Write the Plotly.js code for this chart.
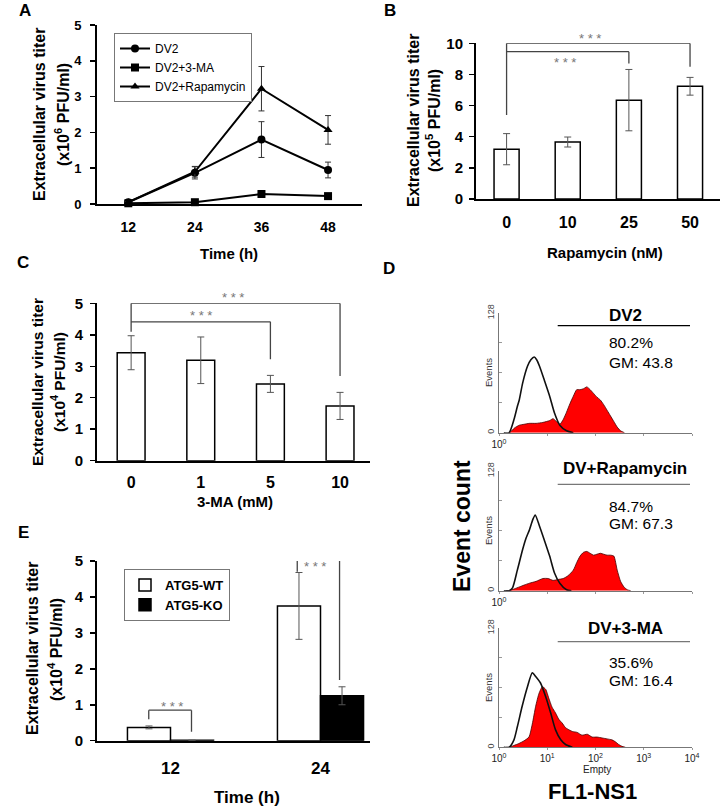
<!DOCTYPE html>
<html><head><meta charset="utf-8">
<script src="https://cdn.plot.ly/plotly-3.0.1.min.js"></script>
<style>html,body{margin:0;padding:0;background:#fff}#chart{width:722px;height:806px}</style>
</head><body><div id="chart"></div>
<script>
// ---------- DATA ----------
// Panel A: titer over time (x10^6 PFU/ml)
const timeA = ['12', '24', '36', '48'];
const dv2Vals = [0.05, 0.87, 1.80, 0.95];
const dv2Err = [0.02, 0.17, 0.50, 0.22];
const maVals = [0.02, 0.05, 0.28, 0.22];
const maErr = [0.01, 0.02, 0.05, 0.03];
const rapaVals = [0.05, 0.90, 3.22, 2.07];
const rapaErr = [0.02, 0.15, 0.62, 0.40];
// Panel B: rapamycin dose (x10^5 PFU/ml)
const rapaDose = ['0', '10', '25', '50'];
const bVals = [3.20, 3.66, 6.35, 7.24];
const bErr = [1.00, 0.32, 1.97, 0.57];
// Panel C: 3-MA dose (x10^4 PFU/ml)
const maDose = ['0', '1', '5', '10'];
const cVals = [3.43, 3.19, 2.44, 1.74];
const cErr = [0.54, 0.74, 0.27, 0.43];
// Panel E: ATG5 (x10^4 PFU/ml)
const timeE = ['12', '24'];
const wtVals = [0.37, 3.75];
const wtErr = [0.04, 0.93];
const koVals = [0.01, 1.25];
const koErr = [0.00, 0.25];
// Panel D: flow histograms (x = log10 FL1, y = events)
const histTickVals = [0, 1, 2, 3, 4];
const histTickText = ['10<sup>0</sup>', '10<sup>1</sup>', '10<sup>2</sup>', '10<sup>3</sup>', '10<sup>4</sup>'];
const dv2CtrlX = [0.10, 0.21, 0.31, 0.38, 0.42, 0.49, 0.59, 0.66, 0.73, 0.78, 0.84, 0.94, 1.05, 1.15, 1.26, 1.40, 1.54];
const dv2CtrlY = [0, 0, 14, 28, 35, 53, 71, 78, 81, 78, 71, 56, 39, 21, 8, 2, 0];
const dv2NS1X = [0.20, 0.24, 0.32, 0.42, 0.52, 0.63, 0.77, 0.91, 1.05, 1.12, 1.19, 1.26, 1.33, 1.40, 1.47, 1.54, 1.61, 1.68, 1.75, 1.82, 1.89, 1.96, 2.03, 2.10, 2.17, 2.24, 2.31, 2.38, 2.45, 2.52, 2.60];
const dv2NS1Y = [0, 1, 5, 8, 9, 10, 10, 11, 13, 15, 12, 9, 14, 22, 31, 39, 46, 46, 47, 49, 46, 42, 38, 35, 30, 24, 18, 12, 6, 2, 0];
const rapaCtrlX = [0.10, 0.21, 0.28, 0.38, 0.49, 0.56, 0.63, 0.70, 0.75, 0.84, 0.94, 1.05, 1.15, 1.26, 1.40, 1.50];
const rapaCtrlY = [0, 0, 3, 22, 44, 56, 65, 76, 81, 69, 54, 37, 19, 8, 1, 0];
const rapaNS1X = [0.15, 0.21, 0.32, 0.42, 0.52, 0.63, 0.77, 0.91, 1.02, 1.12, 1.22, 1.33, 1.43, 1.54, 1.61, 1.68, 1.75, 1.82, 1.89, 1.96, 2.03, 2.10, 2.17, 2.24, 2.31, 2.38, 2.45, 2.52, 2.59, 2.66, 2.73];
const rapaNS1Y = [0, 0, 2, 4, 6, 8, 10, 13, 13, 11, 12, 13, 16, 22, 30, 37, 41, 42, 40, 38, 39, 40, 39, 38, 38, 37, 22, 10, 4, 1, 0];
const maCtrlX = [0.10, 0.21, 0.31, 0.38, 0.48, 0.59, 0.69, 0.76, 0.86, 0.97, 1.07, 1.17, 1.28, 1.38, 1.52];
const maCtrlY = [0, 0, 8, 22, 44, 65, 80, 76, 69, 54, 37, 19, 8, 3, 0];
const maNS1X = [0.15, 0.21, 0.31, 0.41, 0.52, 0.62, 0.69, 0.76, 0.83, 0.90, 0.97, 1.03, 1.10, 1.17, 1.24, 1.31, 1.38, 1.52, 1.62, 1.72, 1.83, 1.93, 2.03, 2.14, 2.24, 2.34, 2.41, 2.48, 2.55, 2.62];
const maNS1Y = [0, 0, 2, 4, 7, 11, 25, 44, 58, 65, 62, 53, 43, 37, 30, 26, 21, 17, 16, 13, 14, 11, 11, 10, 9, 8, 6, 3, 1, 0];

// ---------- HELPERS ----------
const F = 'Arial, "Liberation Sans", sans-serif';
const W = 722, H = 806;
const px = v => v / W;
const py = v => 1 - v / H;
const bold = (s) => ({family: F, size: s, color: '#000', weight: 'bold'});

// ---------- TRACES ----------
const traces = [];
const lineTrace = (name, vals, err, sym) => ({
  type: 'scatter', mode: 'lines+markers', name: name, x: timeA, y: vals,
  xaxis: 'x', yaxis: 'y', cliponaxis: false,
  line: {color: '#000', width: 2},
  marker: {symbol: sym, size: 8, color: '#000'},
  error_y: {type: 'data', array: err, color: '#333', thickness: 1, width: 3}
});
traces.push(lineTrace('DV2', dv2Vals, dv2Err, 'circle'));
traces.push(lineTrace('DV2+3-MA', maVals, maErr, 'square'));
traces.push(lineTrace('DV2+Rapamycin', rapaVals, rapaErr, 'triangle-up'));

const barStyle = {color: '#fff', line: {color: '#000', width: 1.5}};
const errStyle = (arr) => ({type: 'data', array: arr, color: '#555', thickness: 1, width: 3.5});
traces.push({type: 'bar', x: rapaDose, y: bVals, xaxis: 'x2', yaxis: 'y2', width: 0.41, offset: -0.205,
  marker: barStyle, error_y: errStyle(bErr), showlegend: false});
traces.push({type: 'bar', x: maDose, y: cVals, xaxis: 'x3', yaxis: 'y3', width: 0.40, offset: -0.20,
  marker: barStyle, error_y: errStyle(cErr), showlegend: false});
traces.push({type: 'bar', name: 'ATG5-WT', x: timeE, y: wtVals, xaxis: 'x4', yaxis: 'y4', width: 0.287, offset: -0.287,
  marker: barStyle, error_y: errStyle(wtErr), legend: 'legend2'});
traces.push({type: 'bar', name: 'ATG5-KO', x: timeE, y: koVals, xaxis: 'x4', yaxis: 'y4', width: 0.287, offset: 0,
  marker: {color: '#000', line: {color: '#000', width: 1.5}}, error_y: errStyle(koErr), legend: 'legend2'});

const hist = (xs, ys, ax, filled) => ({
  type: 'scatter', mode: 'lines', x: xs, y: ys, xaxis: 'x' + ax, yaxis: 'y' + ax, showlegend: false,
  line: {color: filled ? '#400' : '#111', width: filled ? 0.8 : 1.6, shape: 'spline', smoothing: 0.6},
  fill: filled ? 'tozeroy' : 'none', fillcolor: '#ff0000'
});
traces.push(hist(dv2NS1X, dv2NS1Y, 5, true), hist(dv2CtrlX, dv2CtrlY, 5, false));
traces.push(hist(rapaNS1X, rapaNS1Y, 6, true), hist(rapaCtrlX, rapaCtrlY, 6, false));
traces.push(hist(maNS1X, maNS1Y, 7, true), hist(maCtrlX, maCtrlY, 7, false));

// ---------- AXES ----------
const xBase = (dom, rng, size, standoff) => ({
  domain: dom, range: rng, type: 'category', showline: true, linecolor: '#000', linewidth: 2,
  ticks: '', showgrid: false, zeroline: false, fixedrange: true,
  tickfont: bold(size), ticklabelstandoff: standoff
});
const yBase = (dom, rng, dt, size, so) => ({
  domain: dom, range: rng, dtick: dt, showline: true, linecolor: '#000', linewidth: 2,
  ticks: 'outside', ticklen: 5, tickwidth: 1.5, tickcolor: '#000', showgrid: false, zeroline: false,
  fixedrange: true, tickfont: bold(size), ticklabelstandoff: so
});
const hx = (vals, labels) => ({
  domain: [px(499), px(692)], range: [0, 4], showline: true, linecolor: '#777', linewidth: 1,
  tickmode: 'array', tickvals: vals, ticktext: labels, ticks: 'outside', ticklen: 2, tickcolor: '#999',
  minor: {dtick: 1, tick0: 0, ticks: 'outside', ticklen: 2, tickcolor: '#999'},
  showgrid: false, zeroline: false, fixedrange: true, tickfont: {family: F, size: 10, color: '#222'}
});
const hy = (dom) => ({
  domain: dom, range: [0, 128], showline: true, linecolor: '#777', linewidth: 1,
  tickmode: 'array', tickvals: [0, 128], ticktext: ['0', '128'], tickangle: -90,
  ticks: 'inside', ticklen: 3, tickcolor: '#999',
  minor: {dtick: 32, tick0: 0, ticks: 'inside', ticklen: 3, tickcolor: '#999'},
  showgrid: false, zeroline: false, fixedrange: true,
  tickfont: {family: F, size: 9, color: '#444'}
});

const layout = {
  width: W, height: H, margin: {l: 0, r: 0, t: 0, b: 0},
  paper_bgcolor: '#fff', plot_bgcolor: 'rgba(0,0,0,0)', barmode: 'group',
  font: {family: F, color: '#000'},
  xaxis: Object.assign(xBase([px(97), px(362)], [-0.47, 3.51], 14, 9), {anchor: 'y'}),
  yaxis: Object.assign(yBase([py(204), py(25)], [0, 5], 1, 13, 6), {anchor: 'x'}),
  xaxis2: Object.assign(xBase([px(476), px(720)], [-0.5, 3.49], 16, 8), {anchor: 'y2'}),
  yaxis2: Object.assign(yBase([py(199), py(43.3)], [0, 10], 2, 15, 3), {anchor: 'x2'}),
  xaxis3: Object.assign(xBase([px(97), px(370)], [-0.49, 3.43], 16, 6), {anchor: 'y3'}),
  yaxis3: Object.assign(yBase([py(460.7), py(303.3)], [0, 5], 1, 15, 4), {anchor: 'x3'}),
  xaxis4: Object.assign(xBase([px(97), px(370)], [-0.49, 1.33], 17, 11), {anchor: 'y4'}),
  yaxis4: Object.assign(yBase([py(740.7), py(561)], [0, 5], 1, 15, 4), {anchor: 'x4'}),
  xaxis5: Object.assign(hx([0], [histTickText[0]]), {anchor: 'y5'}),
  yaxis5: Object.assign(hy([py(432.7), py(313)]), {anchor: 'x5'}),
  xaxis6: Object.assign(hx([0], [histTickText[0]]), {anchor: 'y6'}),
  yaxis6: Object.assign(hy([py(590.7), py(471)]), {anchor: 'x6'}),
  xaxis7: Object.assign(hx(histTickVals, histTickText), {anchor: 'y7'}),
  yaxis7: Object.assign(hy([py(747.3), py(628)]), {anchor: 'x7'}),
  legend: {x: px(114), y: py(33), xanchor: 'left', yanchor: 'top', bgcolor: '#fff',
    bordercolor: '#777', borderwidth: 1, font: {family: F, size: 12, color: '#000'},
    tracegroupgap: 0, itemwidth: 30},
  legend2: {x: px(124), y: py(569), xanchor: 'left', yanchor: 'top', bgcolor: '#fff',
    bordercolor: '#777', borderwidth: 1, font: bold(13), tracegroupgap: 0, itemwidth: 30},
  shapes: [], annotations: []
};

// significance brackets (drawn in data coordinates of each panel)
const seg = (xr, yr, x0, y0, x1, y1, col) => layout.shapes.push({type: 'line', xref: xr, yref: yr,
  x0: x0, y0: y0, x1: x1, y1: y1, line: {color: col || '#444', width: 1.3}});
const starFont = {family: F, size: 13, color: '#777'};
const star = (xr, yr, x, y) => layout.annotations.push({xref: xr, yref: yr, x: x, y: y, text: '* * *',
  showarrow: false, font: starFont});
// B
seg('x2', 'y2', 0, 10, 3, 10); seg('x2', 'y2', 0, 10, 0, 5.4); seg('x2', 'y2', 3, 10, 3, 8.5);
seg('x2', 'y2', 0, 9.46, 2, 9.46); seg('x2', 'y2', 2, 9.46, 2, 8.7);
star('x2', 'y2', 0.96, 8.75);
// C
seg('x3', 'y3', 0, 5, 3, 5); seg('x3', 'y3', 0, 5, 0, 4.1); seg('x3', 'y3', 3, 5, 3, 2.69);
seg('x3', 'y3', 0, 4.41, 2, 4.41); seg('x3', 'y3', 2, 4.41, 2, 3.22);
star('x3', 'y3', 1.01, 4.62);
// E
seg('x4', 'y4', -0.145, 0.85, 0.14, 0.85); seg('x4', 'y4', -0.145, 0.85, -0.145, 0.6); seg('x4', 'y4', 0.14, 0.85, 0.14, 0.25);
seg('x4', 'y4', 0.845, 5.03, 1.127, 5.03); seg('x4', 'y4', 0.845, 5.03, 0.845, 4.7); seg('x4', 'y4', 1.127, 5.03, 1.127, 1.69);
star('x4', 'y4', 0.01, 0.96); star('x4', 'y4', 0.965, 4.84);

// header rules in D
const rule = (y, col) => layout.shapes.push({type: 'line', xref: 'paper', yref: 'paper',
  x0: px(557.7), x1: px(690), y0: py(y), y1: py(y), line: {color: col, width: 1.3}});
rule(325.7, '#000'); rule(484.3, '#777'); rule(641.7, '#777');

// text annotations
const txt = (x, y, text, font, extra) => layout.annotations.push(Object.assign({xref: 'paper', yref: 'paper',
  x: px(x), y: py(y), text: text, showarrow: false, font: font, xanchor: 'center', yanchor: 'middle'}, extra || {}));
// outer significance stars (above plot top, so in paper coordinates)
txt(590, 38, '* * *', starFont); txt(233, 297, '* * *', starFont);
// panel letters
txt(25, 11, 'A', bold(17)); txt(390, 11, 'B', bold(17)); txt(23, 262, 'C', bold(17));
txt(389, 268, 'D', bold(17)); txt(23, 532, 'E', bold(17));
// y titles
const rot = {textangle: -90};
txt(40, 115, 'Extracellular virus titer', bold(16), rot); txt(62, 115, '(x10<sup>6</sup> PFU/ml)', bold(16), rot);
txt(413, 121, 'Extracellular virus titer', bold(16), rot); txt(433, 121, '(x10<sup>5</sup> PFU/ml)', bold(16), rot);
txt(38, 382, 'Extracellular virus titer', bold(15.5), rot); txt(58, 382, '(x10<sup>4</sup> PFU/ml)', bold(15.5), rot);
txt(32, 649, 'Extracellular virus titer', bold(16), rot); txt(55, 649, '(x10<sup>4</sup> PFU/ml)', bold(16), rot);
// x titles
txt(229, 254, 'Time (h)', bold(15)); txt(605, 252, 'Rapamycin (nM)', bold(15));
txt(235, 501, '3-MA (mM)', bold(15)); txt(247, 797, 'Time (h)', bold(17));
// D texts
const reg = (s) => ({family: F, size: s, color: '#000'});
txt(625, 316, 'DV2', bold(17));
txt(607, 343, '80.2%', reg(15.5), {xanchor: 'left'}); txt(607, 362, 'GM: 43.8', reg(15.5), {xanchor: 'left'});
txt(625, 468, 'DV+Rapamycin', bold(17));
txt(607, 506, '84.7%', reg(15.5), {xanchor: 'left'}); txt(607, 523, 'GM: 67.3', reg(15.5), {xanchor: 'left'});
txt(625, 628, 'DV+3-MA', bold(17));
txt(607, 662, '35.6%', reg(15.5), {xanchor: 'left'}); txt(607, 680, 'GM: 16.4', reg(15.5), {xanchor: 'left'});
const ev = {family: F, size: 9.5, color: '#333'};
txt(488, 373, 'Events', ev, rot); txt(488, 531, 'Events', ev, rot); txt(488, 688, 'Events', ev, rot);
txt(462, 526, 'Event count', bold(23), rot);
txt(597, 769, 'Empty', {family: F, size: 10, color: '#222'});
txt(592, 791, 'FL1-NS1', bold(22));

Plotly.newPlot('chart', traces, layout, {staticPlot: true, displayModeBar: false});
</script></body></html>
